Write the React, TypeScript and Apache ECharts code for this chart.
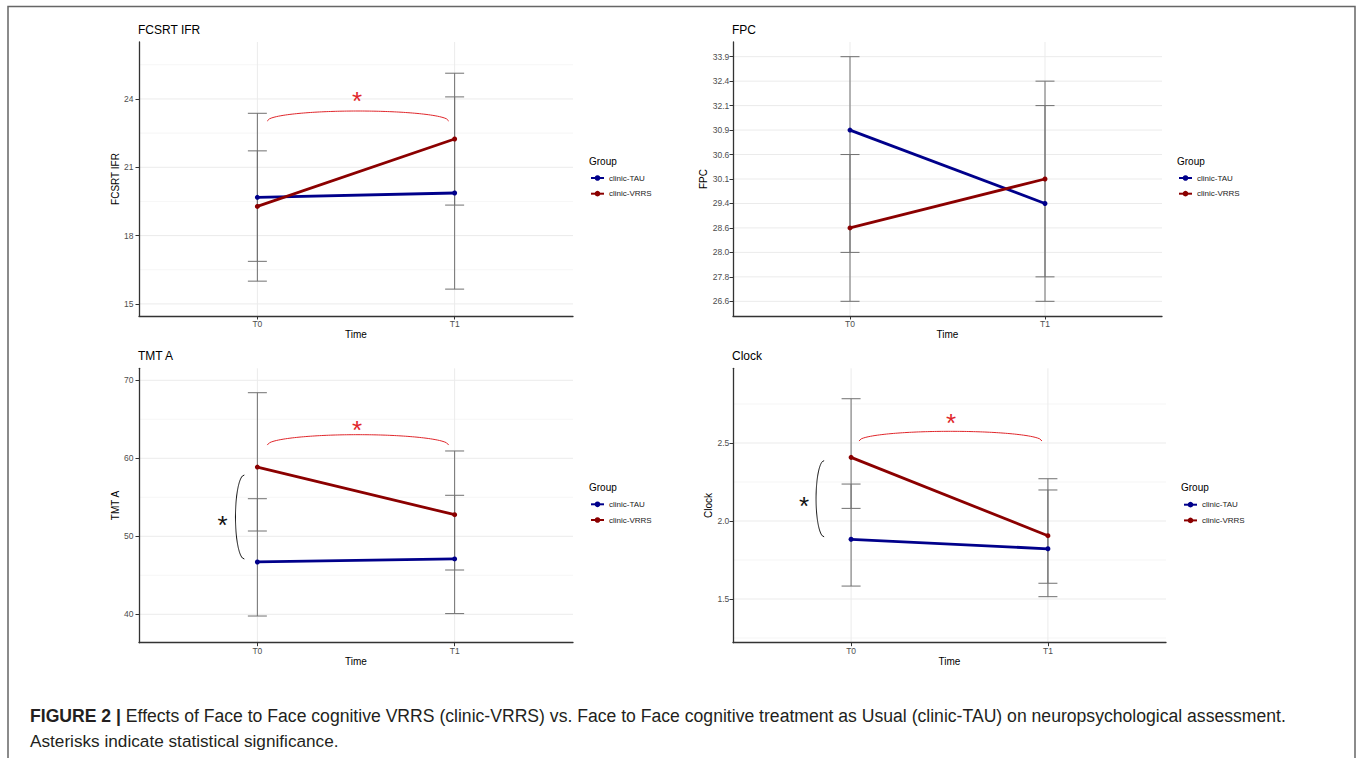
import React, { useEffect, useRef } from 'react';
import * as echarts from 'echarts';

const timePoints = ['T0', 'T1'];
const groups = ['clinic-TAU', 'clinic-VRRS'];

// FCSRT IFR
const fcsrtTau = [19.68, 19.87];
const fcsrtVrrs = [19.28, 22.24];
const fcsrtTauLow = [16.0, 15.65];
const fcsrtTauHigh = [23.37, 24.09];
const fcsrtVrrsLow = [16.87, 19.34];
const fcsrtVrrsHigh = [21.72, 25.13];
const fcsrtTicks = [15, 18, 21, 24];
const fcsrtMinor = [16.5, 19.5, 22.5, 25.5];

// FPC (discrete levels on the y axis)
const fpcLevels = ['26.6', '27.8', '28.0', '28.6', '29.4', '30.1', '30.6', '30.9', '32.1', '32.4', '33.9'];
const fpcTau = [30.9, 29.4];
const fpcVrrs = [28.6, 30.1];
const fpcTauLow = [26.6, 26.6];
const fpcTauHigh = [33.9, 32.4];
const fpcVrrsLow = [28.0, 27.8];
const fpcVrrsHigh = [30.6, 32.1];

// TMT A
const tmtTau = [46.71, 47.1];
const tmtVrrs = [58.88, 52.77];
const tmtTauLow = [39.78, 40.09];
const tmtTauHigh = [54.82, 55.26];
const tmtVrrsLow = [50.68, 45.68];
const tmtVrrsHigh = [68.41, 60.94];
const tmtTicks = [40, 50, 60, 70];
const tmtMinor = [45, 55, 65];

// Clock
const clockTau = [1.883, 1.822];
const clockVrrs = [2.408, 1.906];
const clockTauLow = [1.583, 1.601];
const clockTauHigh = [2.237, 2.199];
const clockVrrsLow = [2.081, 1.515];
const clockVrrsHigh = [2.784, 2.271];
const clockTicks = [1.5, 2.0, 2.5];
const clockMinor = [1.25, 1.75, 2.25, 2.75];

// significance annotations (data units): time bracket [x1, x2, yEnd, yTop], star [x, y]
const fcsrtTimeBracket = [0.05, 0.97, 23.03, 23.47];
const fcsrtTimeStar = [0.505, 24.18];
const tmtTimeBracket = [0.05, 0.97, 61.7, 63.03];
const tmtTimeStar = [0.505, 64.4];
const tmtGroupBracket = [-0.066, -0.111, 57.86, 47.09];
const tmtGroupStar = [-0.177, 52.2];
const clockTimeBracket = [0.04, 0.97, 2.513, 2.575];
const clockTimeStar = [0.508, 2.669];
const clockGroupBracket = [-0.137, -0.178, 2.387, 1.899];
const clockGroupStar = [-0.239, 2.135];

const captionBold = 'FIGURE 2 |';
const captionLine1 = ' Effects of Face to Face cognitive VRRS (clinic-VRRS) vs. Face to Face cognitive treatment as Usual (clinic-TAU) on neuropsychological assessment.';
const captionLine2 = 'Asterisks indicate statistical significance.';

const FONT = '"Liberation Sans", Arial, Helvetica, sans-serif';
const BLUE = '#00008b';
const RED = '#8b0000';
const SIG_RED = '#e0262b';

const fpcIndex = (v: number) => fpcLevels.indexOf(v.toFixed(1));

const gridRender = (params: any, api: any) => {
  const cs = params.coordSys;
  const kind = api.value(2);
  const p = api.coord([api.value(0), api.value(1)]);
  if (kind === 2) {
    return {
      type: 'line',
      shape: { x1: p[0], y1: cs.y, x2: p[0], y2: cs.y + cs.height },
      style: { stroke: '#ebebeb', lineWidth: 1 },
    };
  }
  return {
    type: 'line',
    shape: { x1: cs.x, y1: p[1], x2: cs.x + cs.width, y2: p[1] },
    style: { stroke: kind === 1 ? '#f4f4f4' : '#ebebeb', lineWidth: kind === 1 ? 0.8 : 1 },
  };
};

const errRender = (params: any, api: any) => {
  const x = api.value(0);
  const a = api.coord([x, api.value(1)]);
  const b = api.coord([x, api.value(2)]);
  const hw = 9.5;
  const style = { stroke: '#707070', lineWidth: 1 };
  return {
    type: 'group',
    children: [
      { type: 'line', shape: { x1: a[0], y1: a[1], x2: b[0], y2: b[1] }, style },
      { type: 'line', shape: { x1: a[0] - hw, y1: a[1], x2: a[0] + hw, y2: a[1] }, style },
      { type: 'line', shape: { x1: b[0] - hw, y1: b[1], x2: b[0] + hw, y2: b[1] }, style },
    ],
  };
};

const hBracketRender = (params: any, api: any) => {
  const p1 = api.coord([api.value(0), api.value(2)]);
  const p2 = api.coord([api.value(1), api.value(3)]);
  const xm = (p1[0] + p2[0]) / 2;
  const hw = (p2[0] - p1[0]) / 2;
  const h = p1[1] - p2[1];
  const pts: number[][] = [];
  for (let i = 0; i <= 80; i++) {
    const u = -1 + (2 * i) / 80;
    pts.push([xm + u * hw, p2[1] + h * (1 - Math.sqrt(Math.max(0, 1 - u * u)))]);
  }
  return { type: 'polyline', shape: { points: pts }, style: { stroke: SIG_RED, lineWidth: 1, fill: null } };
};

const vBracketRender = (params: any, api: any) => {
  const pe = api.coord([api.value(0), api.value(2)]);
  const pl = api.coord([api.value(1), api.value(3)]);
  const ym = (pe[1] + pl[1]) / 2;
  const hh = (pl[1] - pe[1]) / 2;
  const w = pe[0] - pl[0];
  const pts: number[][] = [];
  for (let i = 0; i <= 80; i++) {
    const u = -1 + (2 * i) / 80;
    pts.push([pl[0] + w * (1 - Math.sqrt(Math.max(0, 1 - u * u))), ym + u * hh]);
  }
  return { type: 'polyline', shape: { points: pts }, style: { stroke: '#111', lineWidth: 1, fill: null } };
};

const starRender = (color: string, size: number) => (params: any, api: any) => {
  const p = api.coord([api.value(0), api.value(1)]);
  return {
    type: 'text',
    x: p[0],
    y: p[1] + size * 0.23,
    style: {
      text: '*',
      fontSize: size,
      fontFamily: FONT,
      fill: color,
      align: 'center',
      verticalAlign: 'middle',
    },
  };
};

type Panel = {
  title: string;
  grid: { left: number; top: number; width: number; height: number };
  yMin: number;
  yMax: number;
  ticks: number[];
  minor: number[];
  fmt: (v: number) => string;
  tr: (v: number) => number;
  tau: number[];
  vrrs: number[];
  tauLow: number[];
  tauHigh: number[];
  vrrsLow: number[];
  vrrsHigh: number[];
  labelMargin: number;
  nameGap: number;
  legend: { left: number; top: number };
  group: number[];
  timeBracket?: number[];
  timeStar?: number[];
  groupBracket?: number[];
  groupStar?: number[];
};

const ident = (v: number) => v;

const panels: Panel[] = [
  {
    title: 'FCSRT IFR',
    grid: { left: 139, top: 42, width: 434, height: 274 },
    yMin: 14.47, yMax: 26.5, ticks: fcsrtTicks, minor: fcsrtMinor,
    fmt: (v) => String(Math.round(v)), tr: ident,
    tau: fcsrtTau, vrrs: fcsrtVrrs, tauLow: fcsrtTauLow, tauHigh: fcsrtTauHigh, vrrsLow: fcsrtVrrsLow, vrrsHigh: fcsrtVrrsHigh,
    labelMargin: 5.5, nameGap: 16.7,
    legend: { left: 590, top: 173 }, group: [589, 161],
    timeBracket: fcsrtTimeBracket, timeStar: fcsrtTimeStar,
  },
  {
    title: 'FPC',
    grid: { left: 733, top: 42, width: 429, height: 274 },
    yMin: -0.6, yMax: 10.6, ticks: fpcLevels.map((_, i) => i), minor: [],
    fmt: (v) => fpcLevels[Math.round(v)] ?? '', tr: fpcIndex,
    tau: fpcTau, vrrs: fpcVrrs, tauLow: fpcTauLow, tauHigh: fpcTauHigh, vrrsLow: fpcVrrsLow, vrrsHigh: fpcVrrsHigh,
    labelMargin: 3.7, nameGap: 24,
    legend: { left: 1178, top: 173 }, group: [1177, 161],
  },
  {
    title: 'TMT A',
    grid: { left: 139, top: 368.3, width: 434, height: 274.4 },
    yMin: 36.36, yMax: 71.54, ticks: tmtTicks, minor: tmtMinor,
    fmt: (v) => String(Math.round(v)), tr: ident,
    tau: tmtTau, vrrs: tmtVrrs, tauLow: tmtTauLow, tauHigh: tmtTauHigh, vrrsLow: tmtVrrsLow, vrrsHigh: tmtVrrsHigh,
    labelMargin: 5.5, nameGap: 17,
    legend: { left: 590, top: 499.3 }, group: [589, 487.3],
    timeBracket: tmtTimeBracket, timeStar: tmtTimeStar,
    groupBracket: tmtGroupBracket, groupStar: tmtGroupStar,
  },
  {
    title: 'Clock',
    grid: { left: 733, top: 368.3, width: 433, height: 274.4 },
    yMin: 1.22, yMax: 2.979, ticks: clockTicks, minor: clockMinor,
    fmt: (v) => v.toFixed(1), tr: ident,
    tau: clockTau, vrrs: clockVrrs, tauLow: clockTauLow, tauHigh: clockTauHigh, vrrsLow: clockVrrsLow, vrrsHigh: clockVrrsHigh,
    labelMargin: 3.7, nameGap: 19,
    legend: { left: 1183, top: 499.7 }, group: [1181, 487],
    timeBracket: clockTimeBracket, timeStar: clockTimeStar,
    groupBracket: clockGroupBracket, groupStar: clockGroupStar,
  },
];

function buildOption(): any {
  const grid: any[] = [];
  const xAxis: any[] = [];
  const yAxis: any[] = [];
  const series: any[] = [];
  const title: any[] = [];
  const legend: any[] = [];
  const graphic: any[] = [];

  panels.forEach((p, i) => {
    grid.push({ ...p.grid, containLabel: false, outerBoundsMode: 'none' });
    xAxis.push({
      type: 'value', gridIndex: i, min: -0.6, max: 1.6,
      axisLine: { show: true, onZero: false, lineStyle: { color: '#333', width: 1.3 } },
      axisTick: { show: true, length: 3.5, customValues: [0, 1], lineStyle: { color: '#333', width: 1 } },
      axisLabel: {
        customValues: [0, 1], formatter: (v: number) => timePoints[Math.round(v)] ?? '',
        fontSize: 8.5, color: '#4d4d4d', fontFamily: FONT, margin: 3.5,
      },
      splitLine: { show: false },
      name: 'Time', nameLocation: 'middle', nameGap: 13,
      nameTextStyle: { fontSize: 10, color: '#000', fontFamily: FONT },
    });
    yAxis.push({
      type: 'value', gridIndex: i, min: p.yMin, max: p.yMax,
      axisLine: { show: true, onZero: false, lineStyle: { color: '#333', width: 1.3 } },
      axisTick: { show: true, length: 3.5, customValues: p.ticks, lineStyle: { color: '#333', width: 1 } },
      axisLabel: {
        customValues: p.ticks, formatter: (v: number) => p.fmt(v),
        fontSize: 8.5, color: '#4d4d4d', fontFamily: FONT, margin: p.labelMargin,
      },
      splitLine: { show: false },
      name: p.title, nameLocation: 'middle', nameGap: p.nameGap,
      nameTextStyle: { fontSize: 10, color: '#000', fontFamily: FONT },
    });
    title.push({
      text: p.title, left: p.grid.left - 1, top: p.grid.top - 19, padding: 0,
      textStyle: { fontSize: 12, fontWeight: 'normal', color: '#000', fontFamily: FONT, lineHeight: 14 },
    });
    legend.push({
      orient: 'vertical', left: p.legend.left, top: p.legend.top, padding: 0,
      itemWidth: 13, itemHeight: 7, itemGap: 5.7, data: groups, selectedMode: false,
      textStyle: { fontSize: 8, color: '#222', fontFamily: FONT, lineHeight: 10 },
    });
    graphic.push({
      type: 'text', x: p.group[0], y: p.group[1], silent: true,
      style: { text: 'Group', fontSize: 10, fontFamily: FONT, fill: '#000', verticalAlign: 'middle' },
    });

    // grid lines
    const gdata: number[][] = [
      ...p.ticks.map((t) => [0, t, 0]),
      ...p.minor.map((t) => [0, t, 1]),
      [0, p.yMin, 2],
      [1, p.yMin, 2],
    ];
    series.push({
      type: 'custom', name: 'grid' + i, xAxisIndex: i, yAxisIndex: i, z: 0, silent: true,
      renderItem: gridRender, data: gdata, encode: { x: 0, y: 1 },
    });
    // error bars
    const edata: number[][] = [];
    [0, 1].forEach((k) => {
      edata.push([k, p.tr(p.tauLow[k]), p.tr(p.tauHigh[k])]);
      edata.push([k, p.tr(p.vrrsLow[k]), p.tr(p.vrrsHigh[k])]);
    });
    series.push({
      type: 'custom', name: 'err' + i, xAxisIndex: i, yAxisIndex: i, z: 1, silent: true,
      renderItem: errRender, data: edata, encode: { x: 0, y: [1, 2] },
    });
    // group lines
    [
      { name: groups[0], vals: p.tau, color: BLUE },
      { name: groups[1], vals: p.vrrs, color: RED },
    ].forEach((g) => {
      series.push({
        type: 'line', name: g.name, xAxisIndex: i, yAxisIndex: i, z: 3,
        data: g.vals.map((v, k) => [k, p.tr(v)]),
        symbol: 'circle', symbolSize: 5, showSymbol: true,
        lineStyle: { color: g.color, width: 2.8 }, itemStyle: { color: g.color },
        emphasis: { disabled: true },
      });
    });
    if (p.timeBracket) {
      series.push({
        type: 'custom', name: 'tb' + i, xAxisIndex: i, yAxisIndex: i, z: 4, silent: true,
        renderItem: hBracketRender, data: [p.timeBracket], encode: { x: [0, 1], y: [2, 3] },
      });
    }
    if (p.timeStar) {
      series.push({
        type: 'custom', name: 'ts' + i, xAxisIndex: i, yAxisIndex: i, z: 4, silent: true,
        renderItem: starRender(SIG_RED, 26), data: [p.timeStar], encode: { x: 0, y: 1 },
      });
    }
    if (p.groupBracket) {
      series.push({
        type: 'custom', name: 'gb' + i, xAxisIndex: i, yAxisIndex: i, z: 4, silent: true,
        renderItem: vBracketRender, data: [p.groupBracket], encode: { x: [0, 1], y: [2, 3] },
        clip: false,
      });
    }
    if (p.groupStar) {
      series.push({
        type: 'custom', name: 'gs' + i, xAxisIndex: i, yAxisIndex: i, z: 4, silent: true,
        renderItem: starRender('#111', 26), data: [p.groupStar], encode: { x: 0, y: 1 },
      });
    }
  });

  graphic.push({
    type: 'rect', silent: true,
    shape: { x: 8, y: 6.5, width: 1347, height: 800 },
    style: { fill: 'none', stroke: '#666', lineWidth: 1.5 },
  });
  graphic.push({
    type: 'text', x: 30, y: 716, silent: true,
    style: {
      text: '{b|' + captionBold + '}' + captionLine1,
      fontSize: 17.6, fontFamily: FONT, fill: '#231f20', verticalAlign: 'middle',
      rich: { b: { fontSize: 17.6, fontFamily: FONT, fontWeight: 'bold', fill: '#231f20' } },
    },
  });
  graphic.push({
    type: 'text', x: 30, y: 741, silent: true,
    style: { text: captionLine2, fontSize: 17.2, fontFamily: FONT, fill: '#231f20', verticalAlign: 'middle' },
  });

  return {
    animation: false,
    backgroundColor: '#fff',
    textStyle: { fontFamily: FONT },
    title, legend, grid, xAxis, yAxis, series, graphic,
    tooltip: { show: false },
  };
}

export default function App() {
  const ref = useRef<HTMLDivElement>(null);
  useEffect(() => {
    document.body.style.margin = '0';
    if (!ref.current) return;
    const chart = echarts.init(ref.current, null, { renderer: 'svg' });
    chart.setOption(buildOption());
    return () => chart.dispose();
  }, []);
  return (
    <div style={{ position: 'fixed', left: 0, top: 0, width: 1357, height: 758, background: '#fff', margin: 0 }}>
      <div ref={ref} style={{ width: 1357, height: 758 }} />
    </div>
  );
}
